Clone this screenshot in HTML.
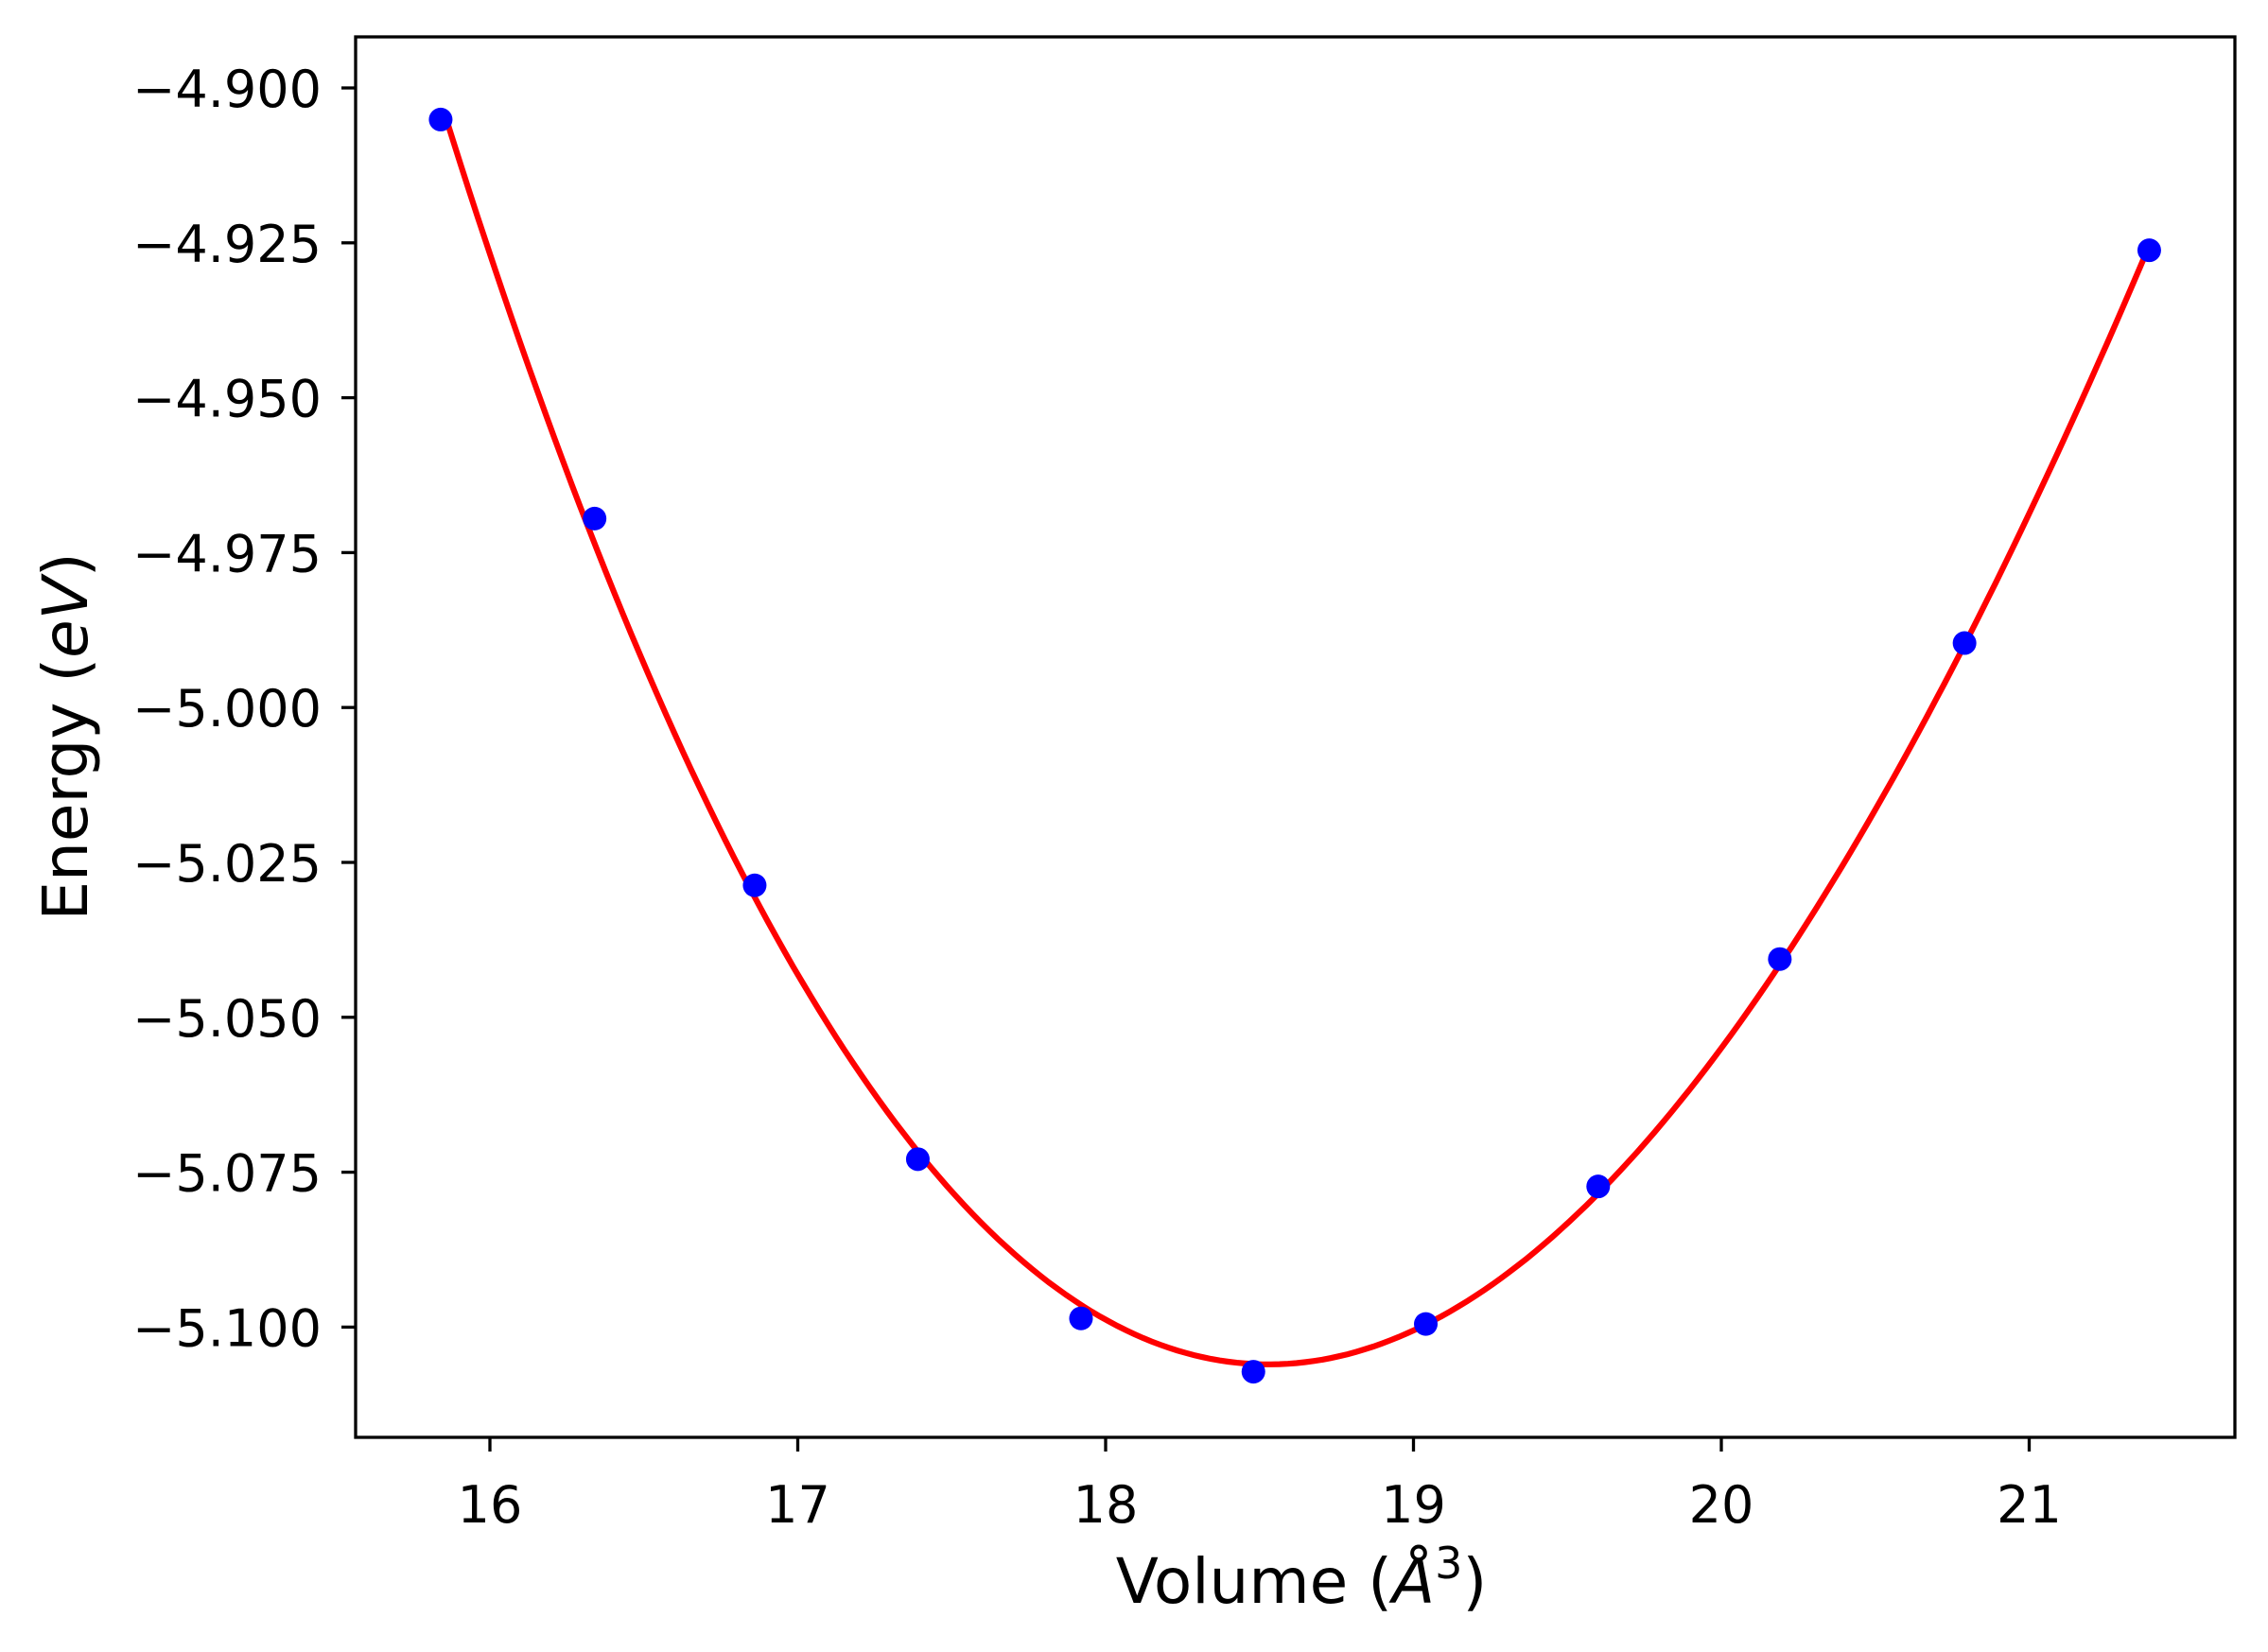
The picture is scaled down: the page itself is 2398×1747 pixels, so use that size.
<!DOCTYPE html>
<html><head><meta charset="utf-8">
<style>html,body{margin:0;padding:0;background:#fff}svg{display:block}text{font-family:"DejaVu Sans","Liberation Sans",sans-serif;fill:#000}</style>
</head><body>
<svg id="chart" width="2398" height="1747" viewBox="0 0 2398 1747" xmlns="http://www.w3.org/2000/svg">
<rect x="0" y="0" width="2398" height="1747" fill="#fff"/>
<g id="plot"></g>
</svg>
<script>
const volumes=[15.84,16.34,16.86,17.39,17.92,18.48,19.04,19.60,20.19,20.79,21.39];
const energies=[-4.9051,-4.9695,-5.0287,-5.0729,-5.0986,-5.1072,-5.0995,-5.0773,-5.0406,-4.9896,-4.9262];
const xTicks=[16,17,18,19,20,21];
const yTicks=[-4.900,-4.925,-4.950,-4.975,-5.000,-5.025,-5.050,-5.075,-5.100];
const yTickLabels=["\u22124.900","\u22124.925","\u22124.950","\u22124.975","\u22125.000","\u22125.025","\u22125.050","\u22125.075","\u22125.100"];
const L=376,R=2363,T=39,B=1520;
function xs(v){return 518+(v-16)*325.5;}
function ys(e){return 93+(-4.9-e)/0.025*163.8;}
const NS="http://www.w3.org/2000/svg";
const g=document.getElementById('plot');
function mk(t,a){const e=document.createElementNS(NS,t);for(const k in a)e.setAttribute(k,a[k]);g.appendChild(e);return e;}
function fit(xv,yv){const n=4,x0=18.5;const A=[],b=[];for(let i=0;i<n;i++){A.push(new Array(n).fill(0));b.push(0);}
for(let k=0;k<xv.length;k++){const t=xv[k]-x0;const p=[1,t,t*t,t*t*t];for(let i=0;i<n;i++){b[i]+=p[i]*yv[k];for(let j=0;j<n;j++)A[i][j]+=p[i]*p[j];}}
for(let i=0;i<n;i++){let m=i;for(let r=i+1;r<n;r++)if(Math.abs(A[r][i])>Math.abs(A[m][i]))m=r;[A[i],A[m]]=[A[m],A[i]];[b[i],b[m]]=[b[m],b[i]];
for(let r=0;r<n;r++){if(r===i)continue;const f=A[r][i]/A[i][i];for(let c=i;c<n;c++)A[r][c]-=f*A[i][c];b[r]-=f*b[i];}}
const c=b.map((v,i)=>v/A[i][i]);return v=>{const t=v-x0;return c[0]+c[1]*t+c[2]*t*t+c[3]*t*t*t;};}
const f=fit(volumes,energies);
let d="";const v0=volumes[0]+0.01,v1=volumes[volumes.length-1];
for(let i=0;i<=200;i++){const v=v0+(v1-v0)*i/200;d+=(i?"L":"M")+xs(v).toFixed(1)+","+ys(f(v)).toFixed(1);}
const curve=mk('path',{d:d,fill:'none',stroke:'#ff0000','stroke-width':6.2});


volumes.forEach((v,i)=>{const c=mk('circle',{cx:xs(v),cy:ys(energies[i]),r:12.5,fill:'#0000ff'});

});
const frame=mk('rect',{x:L,y:T,width:R-L,height:B-T,fill:'none',stroke:'#000','stroke-width':3.3});


xTicks.forEach(v=>{const x=xs(v);const tk=mk('line',{x1:x,x2:x,y1:B,y2:B+15,stroke:'#000','stroke-width':3.3});


const t=mk('text',{x:x,y:1610,'text-anchor':'middle','font-size':54});t.textContent=String(v);

});
yTicks.forEach((v,i)=>{const y=ys(v);const tk=mk('line',{x1:L-15,x2:L,y1:y,y2:y,stroke:'#000','stroke-width':3.3});


const t=mk('text',{x:340,y:y+20,'text-anchor':'end','font-size':54});t.textContent=yTickLabels[i];

});
const xl=mk('text',{x:1376,y:1695,'text-anchor':'middle','font-size':66});
xl.innerHTML='Volume (<tspan font-style="italic">Å</tspan><tspan font-size="46" dy="-26">3</tspan><tspan dy="26">)</tspan>';


const yl=mk('text',{x:0,y:0,'text-anchor':'middle','font-size':66,transform:'translate(92,779) rotate(-90)'});
yl.innerHTML='Energy (<tspan font-style="italic">eV</tspan>)';


</script>
</body></html>
